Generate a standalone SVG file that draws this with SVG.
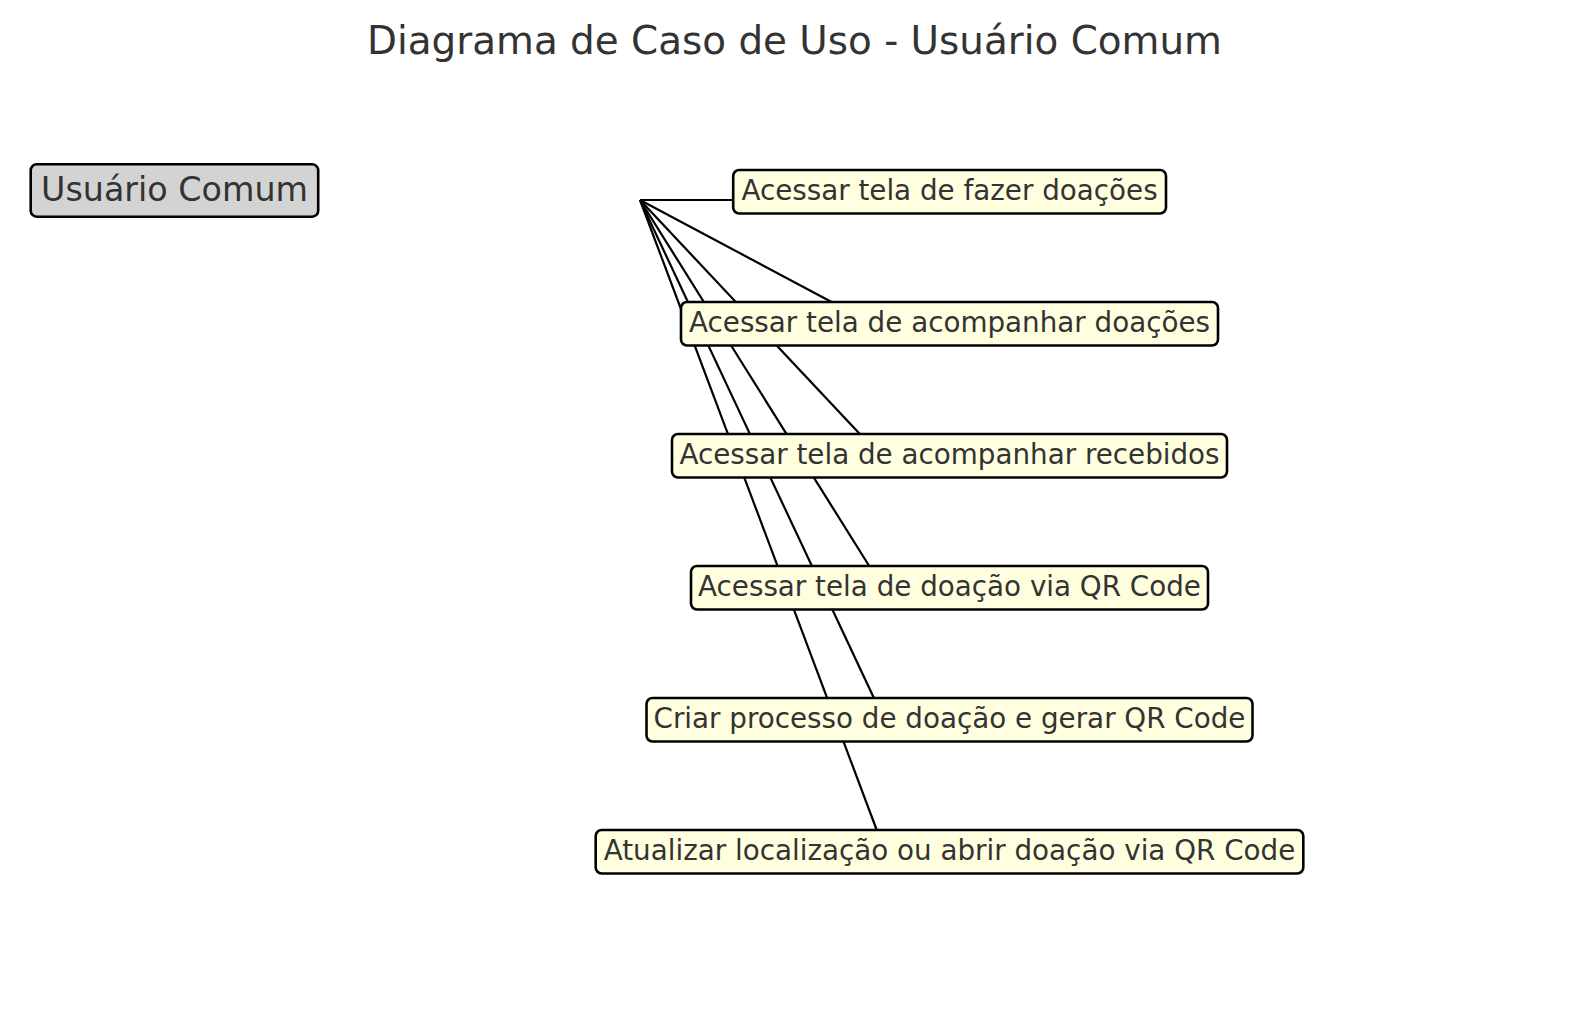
<svg xmlns="http://www.w3.org/2000/svg" width="1589" height="1012" viewBox="0 0 1589 1012">
<style>
  .t{font-family:"DejaVu Sans",sans-serif;fill:#333333;text-anchor:middle}
  .uc{fill:#FFFFE0;stroke:#000;stroke-width:2.6}
  .act{fill:#D3D3D3;stroke:#000;stroke-width:2.6}
  .lbl{font-size:27.78px}
  .c{stroke:#000;stroke-width:2.2;fill:none}
</style>
<rect width="1589" height="1012" fill="#fff"/>
<text class="t" x="794.5" y="53.5" font-size="38.89">Diagrama de Caso de Uso - Usuário Comum</text>
<g id="connectors">
  <line class="c" x1="640" y1="200" x2="888" y2="200"/>
  <line class="c" x1="640" y1="200" x2="888" y2="332"/>
  <line class="c" x1="640" y1="200" x2="888" y2="464"/>
  <line class="c" x1="640" y1="200" x2="888" y2="596"/>
  <line class="c" x1="640" y1="200" x2="888" y2="728"/>
  <line class="c" x1="640" y1="200" x2="888" y2="860"/>
</g>
<g id="actor">
  <rect class="act" x="30.7" y="164.3" width="287.5" height="52.4" rx="6"/>
  <text class="t" x="174.5" y="200.5" font-size="33.33">Usuário Comum</text>
</g>
<g id="uc1">
  <rect class="uc" x="733.2" y="170" width="432.8" height="43.5" rx="6"/>
  <text class="t lbl" x="949.5" y="200.2">Acessar tela de fazer doações</text>
</g>
<g id="uc2">
  <rect class="uc" x="681" y="302" width="537" height="43.5" rx="6"/>
  <text class="t lbl" x="949.5" y="332.2">Acessar tela de acompanhar doações</text>
</g>
<g id="uc3">
  <rect class="uc" x="672" y="434" width="555" height="43.5" rx="6"/>
  <text class="t lbl" x="949.5" y="464.2">Acessar tela de acompanhar recebidos</text>
</g>
<g id="uc4">
  <rect class="uc" x="691" y="566" width="517" height="43.5" rx="6"/>
  <text class="t lbl" x="949.5" y="596.2">Acessar tela de doação via QR Code</text>
</g>
<g id="uc5">
  <rect class="uc" x="646.5" y="698" width="606" height="43.5" rx="6"/>
  <text class="t lbl" x="949.5" y="728.2">Criar processo de doação e gerar QR Code</text>
</g>
<g id="uc6">
  <rect class="uc" x="595.7" y="830" width="707.6" height="43.5" rx="6"/>
  <text class="t lbl" x="949.5" y="860.2">Atualizar localização ou abrir doação via QR Code</text>
</g>
</svg>
